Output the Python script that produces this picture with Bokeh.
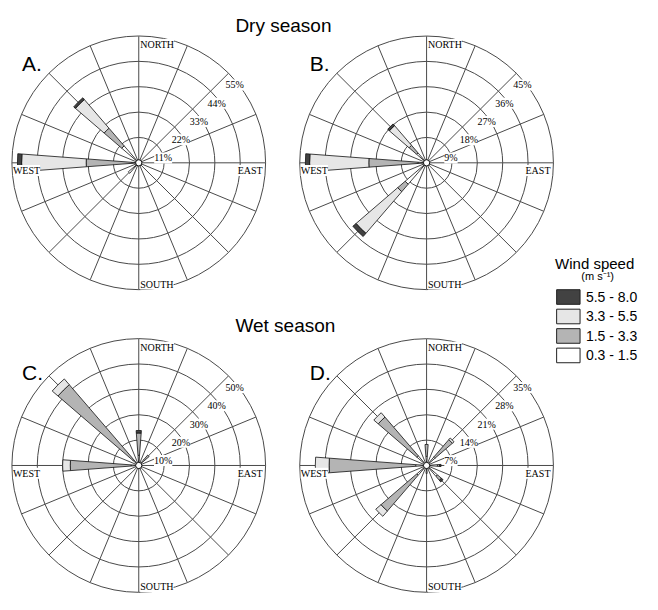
import numpy as np
from bokeh.plotting import figure
from bokeh.models import Label
from bokeh.embed import file_html
from bokeh.resources import INLINE

# ---------------- data ----------------
directions = ["N", "NNE", "NE", "ENE", "E", "ESE", "SE", "SSE",
              "S", "SSW", "SW", "WSW", "W", "WNW", "NW", "NNW"]
class_labels = ["0.3 - 1.5", "1.5 - 3.3", "3.3 - 5.5", "5.5 - 8.0"]
class_colors = ["#ffffff", "#b4b4b4", "#e6e6e6", "#424242"]

# Panel A (dry season) – percent frequency per speed class
a_dirs = ["W", "NW", "SW"]
a_c1 = [3.0, 9.7, 6.0]
a_c2 = [19.8, 10.1, 0.0]
a_c3 = [28.0, 16.4, 0.0]
a_c4 = [1.8, 1.0, 0.0]
a_ticks = [11, 22, 33, 44, 55]

# Panel B (dry season)
b_dirs = ["W", "NW", "SW"]
b_c1 = [3.0, 4.7, 10.0]
b_c2 = [17.5, 3.5, 3.5]
b_c3 = [21.0, 9.2, 19.5]
b_c4 = [1.5, 0.8, 1.5]
b_ticks = [9, 18, 27, 36, 45]

# Panel C (wet season)
c_dirs = ["NW", "W", "N", "NE"]
c_c1 = [3.0, 3.0, 4.0, 3.0]
c_c2 = [39.0, 24.0, 8.8, 2.4]
c_c3 = [3.0, 3.0, 0.0, 0.0]
c_c4 = [0.0, 0.0, 1.0, 0.0]
c_ticks = [10, 20, 30, 40, 50]

# Panel D (wet season)
d_dirs = ["W", "NW", "SW", "NE", "N", "E", "SE", "S"]
d_c1 = [3.0, 3.5, 3.6, 3.0, 2.5, 3.0, 4.0, 1.2]
d_c2 = [23.9, 14.1, 13.0, 6.4, 3.3, 0.6, 1.4, 1.0]
d_c3 = [3.8, 1.6, 1.9, 0.6, 0.0, 0.0, 0.0, 0.0]
d_c4 = [0.0, 0.0, 0.0, 0.0, 0.0, 0.4, 0.6, 0.0]
d_ticks = [7, 14, 21, 28, 35]

titles = ["Dry season", "Wet season"]
panel_letters = ["A.", "B.", "C.", "D."]
legend_title = "Wind speed"
legend_unit = "(m s\u207b\u00b9)"

# ---------------- layout ----------------
W, H = 658, 610
R = 130.0
GRID = "#4a4a4a"
SERIF = "Liberation Serif"
SANS = "Liberation Sans"

p = figure(width=642, height=594, x_range=(0, W), y_range=(0, H),
           output_backend="svg", toolbar_location=None, tools="",
           x_axis_type=None, y_axis_type=None, min_border=0)
p.grid.visible = False
p.outline_line_color = None
p.background_fill_color = "white"


def lab(x, y, text, size, font=SANS, align="left", baseline="middle",
        bg=None, style="normal", color="#000000"):
    kw = dict(x=x, y=H - y, text=text, text_font=font, text_font_size=size,
              text_align=align, text_baseline=baseline, text_color=color,
              text_font_style=style)
    if bg:
        kw.update(background_fill_color=bg, background_fill_alpha=1.0)
    p.add_layout(Label(**kw))


def panel(cx, cy, ticks, dirs, c1, c2, c3, c4):
    X, Y = cx, H - cy
    scale = R / ticks[-1]
    # rings
    p.circle(x=[X] * len(ticks), y=[Y] * len(ticks),
             radius=[t * scale for t in ticks],
             fill_color=None, line_color=GRID, line_width=1)
    # spokes
    ang = np.deg2rad(90 - 22.5 * np.arange(16))
    p.segment(x0=[X] * 16, y0=[Y] * 16, x1=X + R * np.cos(ang),
              y1=Y + R * np.sin(ang), line_color=GRID, line_width=1)
    # percent labels
    for k, t in enumerate(ticks):
        lab(cx + 25 + 18.3 * k, cy - 5 - 18.75 * k, f"{t}%", "10px",
            font=SERIF, align="center", bg="white")
    # petals
    hw = np.deg2rad(4.3)
    xs, ys, ir, orr, sa, ea, cols = [], [], [], [], [], [], []
    for i, d in enumerate(dirs):
        th = np.deg2rad(90 - 22.5 * directions.index(d))
        cum = 0.0
        for v, col in zip((c1[i], c2[i], c3[i], c4[i]), class_colors):
            if v > 0:
                xs.append(X); ys.append(Y)
                ir.append(cum * scale); orr.append((cum + v) * scale)
                sa.append(th - hw); ea.append(th + hw); cols.append(col)
            cum += v
    p.annular_wedge(x=xs, y=ys, inner_radius=ir, outer_radius=orr,
                    start_angle=sa, end_angle=ea, fill_color=cols,
                    line_color="#111111", line_width=0.8)
    # direction labels
    lab(cx + 1.5, cy - 121.5, "NORTH", "10px", font=SERIF, bg="white")
    lab(cx + 1.5, cy + 124.5, "SOUTH", "10px", font=SERIF, bg="white")
    lab(cx - 129, cy + 8, "WEST", "10px", font=SERIF, bg="white")
    lab(cx + 127, cy + 8, "EAST", "10px", font=SERIF, align="right", bg="white")
    # calm circle
    p.circle(x=[X], y=[Y], radius=[3.2], fill_color="white",
             line_color="#111111", line_width=1)


panel(141.7, 166.7, a_ticks, a_dirs, a_c1, a_c2, a_c3, a_c4)
panel(436.7, 166.7, b_ticks, b_dirs, b_c1, b_c2, b_c3, b_c4)
panel(141.7, 477.5, c_ticks, c_dirs, c_c1, c_c2, c_c3, c_c4)
panel(436.7, 477.5, d_ticks, d_dirs, d_c1, d_c2, d_c3, d_c4)

# titles and panel letters
lab(290, 26, titles[0], "19px", align="center", baseline="alphabetic")
lab(292, 334, titles[1], "19px", align="center", baseline="alphabetic")
for (lx, ly), t in zip([(22, 65), (317, 65), (22, 382), (317, 382)], panel_letters):
    lab(lx, ly, t, "21px", baseline="alphabetic")

# legend
lab(609, 270, legend_title, "15px", align="center", baseline="alphabetic")
lab(612, 283, legend_unit, "11px", align="center")
leg_cols = class_colors[::-1]
leg_txt = class_labels[::-1]
tops = [297 + 20 * k for k in range(4)]
p.quad(left=[570] * 4, right=[594] * 4, top=[H - t for t in tops],
       bottom=[H - t - 15 for t in tops], fill_color=leg_cols,
       line_color="#222222", line_width=1)
for t, s in zip(tops, leg_txt):
    lab(600, t + 7.5, s, "14px")

open("out.html", "w").write(file_html(p, INLINE))
